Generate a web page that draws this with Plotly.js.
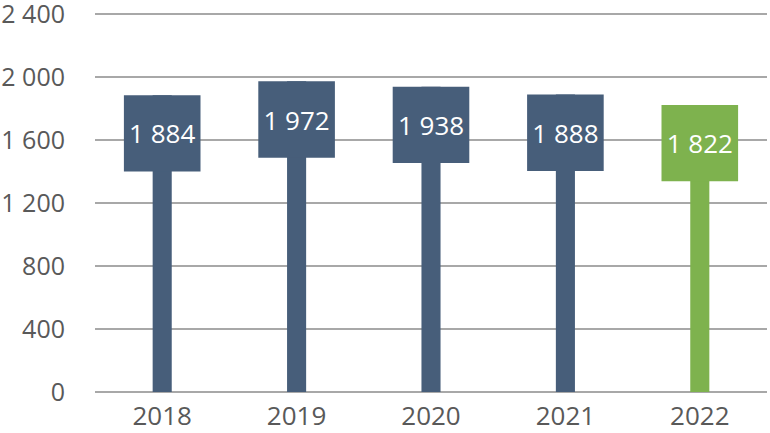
<!DOCTYPE html>
<html>
<head>
<meta charset="utf-8">
<script src="https://cdn.plot.ly/plotly-3.0.1.min.js"></script>
<style>html,body{margin:0;padding:0;background:#fff;}#chart{width:770px;height:433px;}</style>
</head>
<body>
<div id="chart"></div>
<script>
const categories = ['2018', '2019', '2020', '2021', '2022'];
const values = [1884, 1972, 1938, 1888, 1822];
const tickValues = [0, 400, 800, 1200, 1600, 2000, 2400];

const BLUE = '#475E7A';
const GREEN = '#7EB24E';
const colors = categories.map((c, i) => i === categories.length - 1 ? GREEN : BLUE);
const BOX_HEIGHT = 485;
const fmt = v => String(v).replace(/\B(?=(\d{3})+(?!\d))/g, ' ');

const stem = {
  type: 'bar', x: categories, y: values, width: 0.142,
  marker: {color: colors, line: {width: 0}},
  hoverinfo: 'skip', showlegend: false
};
const box = {
  type: 'bar', x: categories,
  y: values.map(() => BOX_HEIGHT),
  base: values.map(v => v - BOX_HEIGHT),
  width: 0.57,
  marker: {color: colors, line: {width: 0}},
  text: values.map(fmt),
  textposition: 'inside', insidetextanchor: 'middle', textangle: 0,
  textfont: {family: 'Open Sans', size: 26, color: '#ffffff'},
  hoverinfo: 'skip', showlegend: false
};

const layout = {
  width: 770, height: 433,
  margin: {l: 95, r: 3, t: 6, b: 41},
  barmode: 'overlay',
  separators: ', ',
  paper_bgcolor: '#ffffff', plot_bgcolor: '#ffffff',
  font: {family: 'Open Sans', color: '#595959'},
  xaxis: {
    type: 'category', showgrid: false, zeroline: false, showline: false,
    ticks: 'outside', ticklen: 1, tickcolor: 'rgba(0,0,0,0)',
    tickfont: {family: 'Open Sans', size: 26, color: '#595959'}
  },
  yaxis: {
    range: [0, 2450], tickmode: 'array', tickvals: tickValues, ticktext: tickValues.map(fmt),
    showgrid: true, gridcolor: '#A8A8A8', gridwidth: 2,
    zeroline: true, zerolinecolor: '#A8A8A8', zerolinewidth: 2, showline: false,
    ticks: 'outside', ticklen: 24, tickcolor: 'rgba(0,0,0,0)',
    ticklabeloverflow: 'allow', automargin: false,
    tickfont: {family: 'Open Sans', size: 25, color: '#595959'}
  }
};

Plotly.newPlot('chart', [stem, box], layout, {staticPlot: true, displayModeBar: false});
</script>
</body>
</html>
